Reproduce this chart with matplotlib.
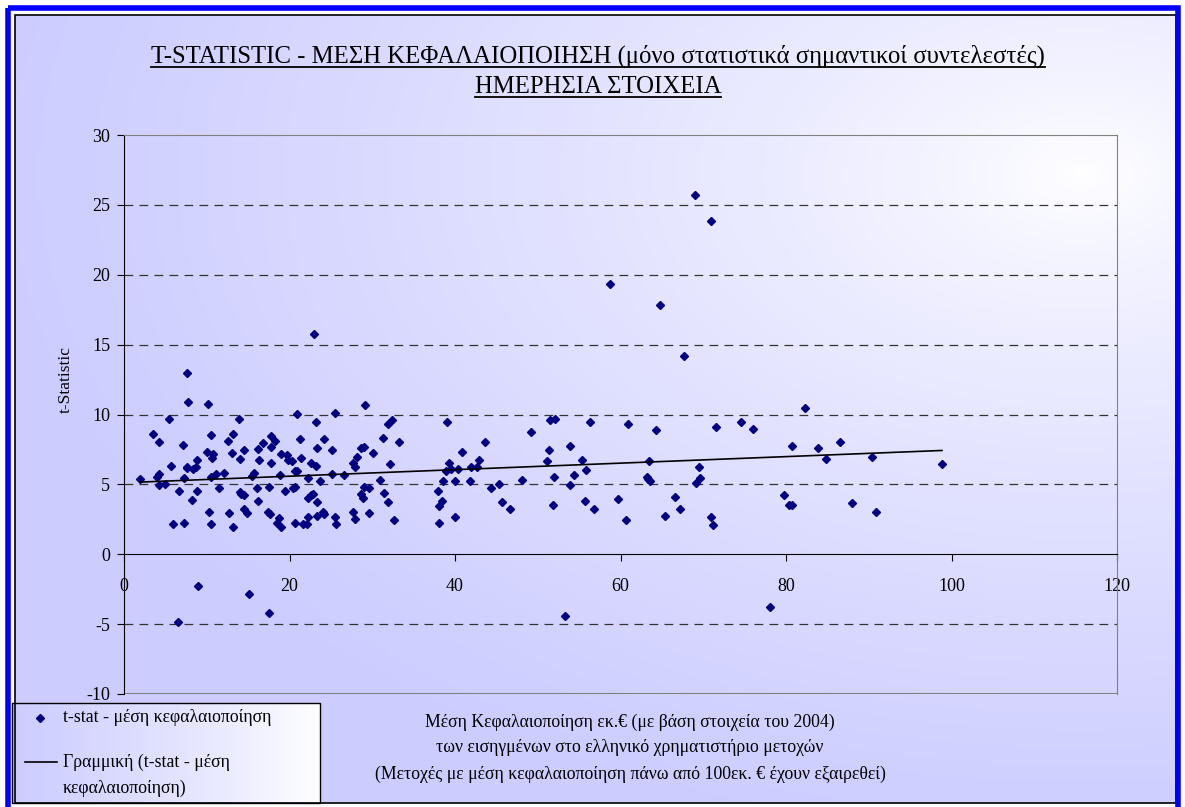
import matplotlib.pyplot as plt
import numpy as np
from matplotlib.colors import LinearSegmentedColormap
from matplotlib.patches import Rectangle
from matplotlib.lines import Line2D

plt.rcParams['font.family'] = ['Liberation Serif', 'DejaVu Serif']
plt.rcParams['axes.unicode_minus'] = False

# μέση κεφαλαιοποίηση (εκ. €) και t-statistic, διαβασμένα από το διάγραμμα
cap = [7.57, 7.73, 10.15, 5.48, 13.86, 3.54, 4.19, 10.47, 13.21, 12.57, 7.09, 9.99, 10.79,
       10.63, 13.05, 14.5, 14.02, 16.19, 16.27, 5.64, 7.57, 7.65, 8.38, 8.70, 8.86, 7.25,
       4.27, 4.03, 1.93, 4.19, 4.99, 6.61, 8.22, 8.86, 10.47, 11.12, 12.08, 11.44, 10.31,
       12.73, 14.02, 14.18, 14.5, 14.5, 14.82, 15.47, 15.71, 16.11, 16.19, 5.96, 7.25,
       10.47, 13.21,
       16.76, 17.8, 18.2, 17.75, 17.75, 17.56, 17.4, 17.6, 18.69, 18.45, 19.0, 19.0, 19.66,
       19.82, 20.3, 18.85, 19.49, 20.38, 20.62, 20.62, 20.86, 21.3, 21.45, 20.94, 23.2,
       25.45, 29.15, 23.35, 24.15, 25.12, 22.55, 23.2, 22.23, 23.68, 25.12, 26.58, 22.23,
       22.55, 22.87, 23.35, 20.62, 21.59, 22.07, 22.23, 23.35, 24.0, 24.15, 25.45, 25.6,
       27.7, 27.87, 29.64, 32.6, 27.7, 27.87, 28.2, 28.7, 29.0, 30.1, 31.26, 31.9, 32.38,
       33.2, 32.14, 30.93, 29.0, 29.64, 28.7, 28.84, 31.42, 31.9,
       39.07, 40.84, 43.58, 42.93, 39.23, 38.91, 39.55, 40.36, 41.97, 42.61, 38.59, 40.04,
       41.81, 37.94, 38.43, 38.1, 38.1, 40.04, 44.39, 45.35, 45.68, 46.64, 48.09, 49.22,
       51.47, 52.12, 56.31, 60.9, 64.28, 51.31, 51.15, 53.89, 55.34, 55.83, 51.96, 54.37,
       53.89, 63.48, 63.16, 63.32, 63.56, 51.8, 55.67, 56.79, 59.69, 60.66, 65.41, 66.54,
       67.18,
       71.53, 74.59, 76.04, 82.33, 80.72, 83.86, 69.44, 69.6, 69.11, 79.75, 80.31, 80.72,
       70.89, 71.2,
       86.52, 84.83, 90.39, 98.85, 87.97, 90.87,
       68.98, 70.89, 64.77, 67.7, 58.7, 23.0, 6.57, 9.0, 15.07, 17.5, 53.35, 78.04]

tstat = [12.94, 10.93, 10.74, 9.71, 9.71, 8.64, 8.04, 8.52, 8.64, 8.13, 7.82, 7.34, 7.20,
         6.91, 7.22, 7.44, 6.84, 7.51, 6.75, 6.34, 6.24, 6.15, 6.10, 6.24, 6.75, 5.48,
         5.77, 5.53, 5.36, 4.93, 5.02, 4.55, 3.85, 4.55, 5.55, 5.74, 5.81, 4.74, 3.04,
         2.94, 4.45, 4.33, 4.23, 3.25, 2.94, 5.60, 5.79, 4.74, 3.83, 2.15, 2.25,
         2.15, 1.96,
         7.94, 8.44, 8.13, 7.70, 6.53, 4.83, 3.0, 2.85, 2.56, 2.25, 1.94, 7.15, 7.13,
         6.75, 6.65, 5.65, 4.55, 4.74, 4.83, 5.96, 5.96, 8.23, 6.91, 10.05, 9.47,
         10.12, 10.65, 7.61, 8.23, 7.44, 6.53, 6.34, 5.43, 5.22, 5.72, 5.65, 4.02,
         4.23, 4.31, 3.73, 2.25, 2.13, 2.13, 2.66, 2.75, 3.04, 2.85, 2.66, 2.15,
         3.04, 2.54, 2.94, 2.44, 6.53, 6.24, 6.94, 7.58, 7.67, 7.22, 8.30, 9.33, 9.64,
         8.04, 6.44, 5.33, 4.83, 4.74, 4.33, 4.04, 4.38, 3.73,
         9.45, 7.34, 8.04, 6.75, 6.53, 5.93, 6.12, 6.12, 6.24, 6.24, 5.24, 5.24,
         5.24, 4.55, 3.83, 3.44, 2.25, 2.66, 4.74, 5.05, 3.73, 3.25, 5.33, 8.73,
         9.64, 9.71, 9.43, 9.33, 8.92, 7.44, 6.65, 7.73, 6.75, 6.05, 5.55, 5.65,
         4.93, 6.65, 5.55, 5.38, 5.22, 3.54, 3.83, 3.23, 3.95, 2.44, 2.75, 4.09,
         3.21,
         9.09, 9.47, 8.97, 10.48, 7.73, 7.63, 6.24, 5.43, 5.12, 4.23, 3.54, 3.54,
         2.66, 2.06,
         8.04, 6.84, 6.94, 6.44, 3.64, 3.04,
         25.73, 23.82, 17.86, 14.16, 19.36, 15.77, -4.83, -2.25, -2.84, -4.23, -4.44, -3.75]

x_ticks = [0, 20, 40, 60, 80, 100, 120]
y_ticks = [-10, -5, 0, 5, 10, 15, 20, 25, 30]

title_1 = 'T-STATISTIC - ΜΕΣΗ ΚΕΦΑΛΑΙΟΠΟΙΗΣΗ (μόνο στατιστικά σημαντικοί συντελεστές)'
title_2 = 'ΗΜΕΡΗΣΙΑ ΣΤΟΙΧΕΙΑ'
x_title = ['Μέση Κεφαλαιοποίηση εκ.€ (με βάση στοιχεία του 2004)',
           'των εισηγμένων στο ελληνικό χρηματιστήριο μετοχών',
           '(Μετοχές με μέση κεφαλαιοποίηση πάνω από 100εκ. € έχουν εξαιρεθεί)']
leg_scatter = 't-stat - μέση κεφαλαιοποίηση'
leg_trend = ['Γραμμική (t-stat - μέση', 'κεφαλαιοποίηση)']

W, H = 1185, 807
navy = '#000080'
lav = '#ccccff'

fig = plt.figure(figsize=(W / 100, H / 100), dpi=100)
fig.patch.set_facecolor('white')

# φόντο σε συντεταγμένες pixel
bg = fig.add_axes([0, 0, 1, 1], zorder=-10)
bg.set_xlim(0, W)
bg.set_ylim(H, 0)
bg.axis('off')

cmap = LinearSegmentedColormap.from_list('grad', ['white', lav])
yy, xx = np.mgrid[0:1:200j, 0:1:300j]
d = np.sqrt(((xx - 0.92) * 1.0) ** 2 + ((yy - 0.2) * 1.1) ** 2)
grad = np.clip(d / 0.95, 0, 1) ** 0.75
bg.imshow(grad, cmap=cmap, extent=(15, 1176, 803, 15), aspect='auto', vmin=0, vmax=1)
bg.add_patch(Rectangle((15, 15), 1161, 788, fill=False, ec='black', lw=1.2))
bg.add_patch(Rectangle((7.5, 7.5), 1170, 810, fill=False, ec='#0000ff', lw=4))

# περιοχή σχεδίασης
ax = fig.add_axes([124 / W, 1 - 694 / H, (1117 - 124) / W, (694 - 135) / H])
ax.patch.set_alpha(0)
ax.set_xlim(0, 120)
ax.set_ylim(-10, 30)
ax.set_xticks(x_ticks)
ax.set_yticks(y_ticks)

for y in y_ticks:
    if y not in (-10, 0, 30):
        ax.axhline(y, color='#333333', lw=0.9, dashes=(7, 5), zorder=1)

ax.spines['bottom'].set_position(('data', 0))
ax.spines['bottom'].set_color('black')
ax.spines['left'].set_color('black')
ax.spines['top'].set_color('#808080')
ax.spines['right'].set_color('#808080')
ax.axhline(-10, color='#808080', lw=1.5, zorder=1)
ax.tick_params(axis='x', direction='out', length=5, pad=12, labelsize=13)
ax.tick_params(axis='y', direction='out', length=5, pad=5, labelsize=13)

ax.plot(cap, tstat, linestyle='none', marker='D', ms=4, color=navy, zorder=3)

coef = np.polyfit(cap, tstat, 1)
xs = np.array([min(cap), max(cap)])
ax.plot(xs, np.polyval(coef, xs), color='black', lw=1.2, zorder=4)

# τίτλοι
t1 = bg.text(598, 63, title_1, ha='center', va='baseline', fontsize=17.8)
t2 = bg.text(598, 93, title_2, ha='center', va='baseline', fontsize=17.8)
bg.text(66, 380, 't-Statistic', rotation=90, ha='center', va='center', fontsize=12.5)
for i, line in enumerate(x_title):
    bg.text(630, 722 + 26 * i, line, ha='center', va='center', fontsize=12.8)

# υπόμνημα
leg_grad = np.tile(np.linspace(1, 0, 100), (20, 1)) ** 0.8
bg.imshow(leg_grad, cmap=cmap, extent=(12, 320, 803, 703), aspect='auto', vmin=0, vmax=1)
bg.add_patch(Rectangle((12, 703), 308, 100, fill=False, ec='black', lw=1))
bg.plot([40], [718], marker='D', ms=4, color=navy, linestyle='none')
bg.text(63, 718, leg_scatter, va='center', fontsize=12.8)
bg.plot([25, 57], [762, 762], color='black', lw=1.2)
bg.text(63, 762, leg_trend[0], va='center', fontsize=12.8)
bg.text(63, 788, leg_trend[1], va='center', fontsize=12.8)

# υπογράμμιση τίτλων
fig.canvas.draw()
inv = bg.transData.inverted()
for t, yl in ((t1, 67), (t2, 97)):
    bb = t.get_window_extent()
    x0 = inv.transform((bb.x0, bb.y0))[0]
    x1 = inv.transform((bb.x1, bb.y0))[0]
    bg.add_line(Line2D([x0, x1], [yl, yl], color='black', lw=1.3))

fig.savefig('out.png', dpi=100)
